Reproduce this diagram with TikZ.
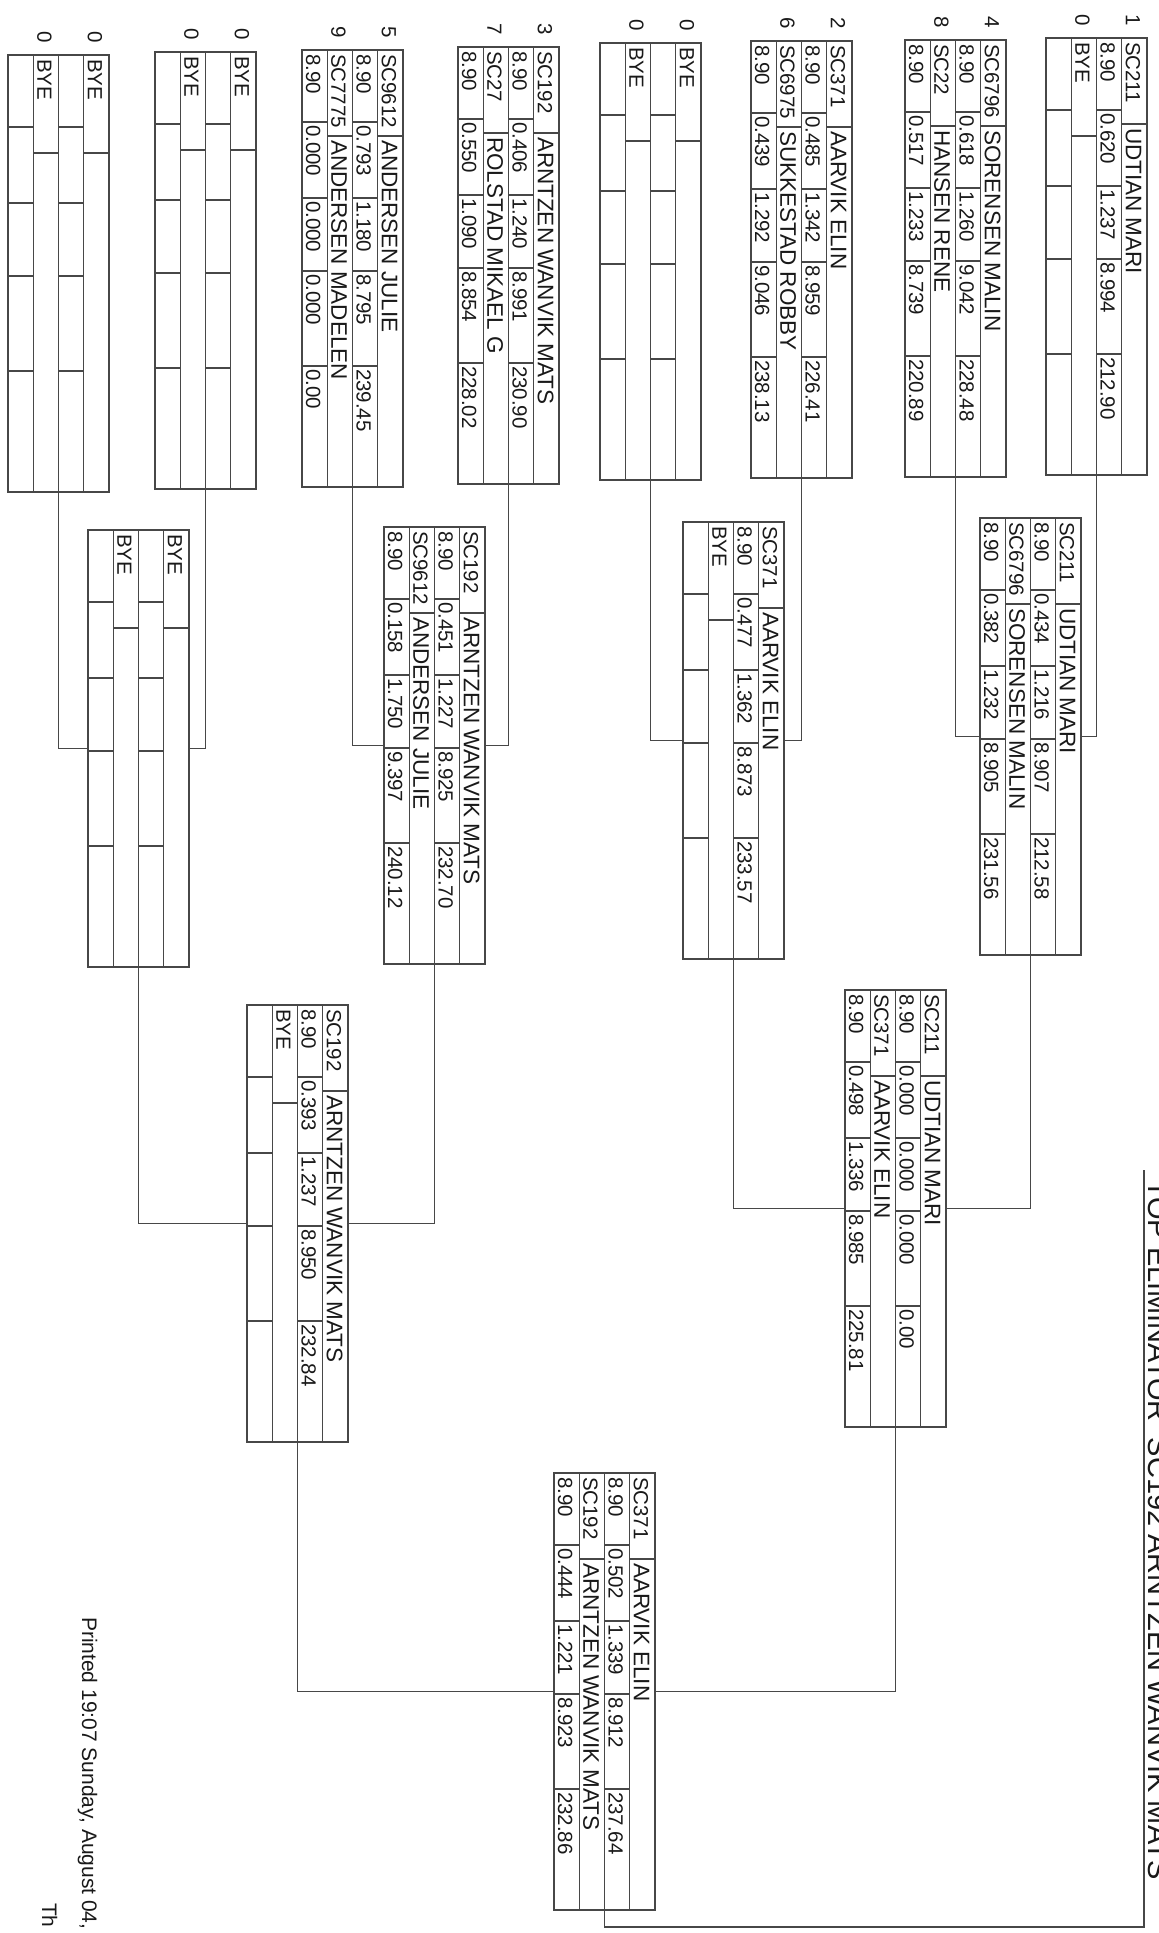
\documentclass[tikz,border=0pt]{standalone}
\usepackage{fontspec}
\setmainfont{Liberation Sans}
\usetikzlibrary{calc}
\newcount\tc
\tikzset{
  ln/.style={draw=black!72, line width=1.3pt},
  boxnode/.style={draw=black!72, line width=1.3pt, rectangle, minimum width=101pt, minimum height=437pt, inner sep=0pt, outer sep=0pt, anchor=north west},
  txt/.style={rotate=-90, anchor=base west, inner sep=0pt, outer sep=0pt, text=black!90, font=\fontsize{20.5}{21}\selectfont},
  ntxt/.style={txt, font=\fontsize{22.5}{23}\selectfont},
  conn/.style={draw=black!72, line width=1.3pt},
}
% box frame: name, left, top
\newcommand\bx[3]{%
  \node[boxnode] (#1) at (#2,#3) {};
  \def\bL{#2}\def\bT{#3}%
  \draw[ln] (#2+25.25,#3) -- ++(0,437) (#2+50.5,#3) -- ++(0,437) (#2+75.75,#3) -- ++(0,437);}
% seed number above name row: slot, digit
\newcommand\seed[2]{%
  \pgfmathsetmacro\sx{\bL+75.75-50.5*#1}%
  \global\advance\tc by 1 \node[txt] (t\the\tc) at (\sx+4,\bT-24) {#2};}
% number-row dividers: slot
\newcommand\ndiv[1]{%
  \pgfmathsetmacro\sy{\bL+50.5-50.5*#1}%
  \draw[ln] (\sy,\bT+72) -- ++(25.25,0) (\sy,\bT+148) -- ++(25.25,0)
            (\sy,\bT+221) -- ++(25.25,0) (\sy,\bT+316) -- ++(25.25,0);}
% player name row: slot, id, name
\newcommand\pl[3]{%
  \pgfmathsetmacro\sx{\bL+75.75-50.5*#1}%
  \draw[ln] (\sx,\bT+86) -- ++(25.25,0);
  \global\advance\tc by 1 \node[txt] (t\the\tc) at (\sx+4,\bT+4) {#2};
  \global\advance\tc by 1 \node[ntxt] (t\the\tc) at (\sx+4,\bT+90) {#3};}
% bye: slot
\newcommand\bye[1]{%
  \pgfmathsetmacro\sx{\bL+75.75-50.5*#1}%
  \draw[ln] (\sx,\bT+98) -- ++(25.25,0);
  \global\advance\tc by 1 \node[txt] (t\the\tc) at (\sx+4,\bT+4) {BYE};
  \ndiv{#1}}
% numbers row: slot, five numbers
\newcommand\nums[6]{%
  \ndiv{#1}%
  \global\advance\tc by 1 \node[txt] (t\the\tc) at (\sy+4,\bT+4) {#2};
  \global\advance\tc by 1 \node[txt] (t\the\tc) at (\sy+4,\bT+75) {#3};
  \global\advance\tc by 1 \node[txt] (t\the\tc) at (\sy+4,\bT+151) {#4};
  \global\advance\tc by 1 \node[txt] (t\the\tc) at (\sy+4,\bT+224) {#5};
  \global\advance\tc by 1 \node[txt] (t\the\tc) at (\sy+4,\bT+319) {#6};}
\begin{document}
\begin{tikzpicture}[x=1pt,y=-1pt]
\useasboundingbox[fill=white] (0,0) rectangle (1159,1933);
% ---------- first round ----------
\bx{b1}{1046}{38} \seed{0}{1}\seed{1}{0}
\pl{0}{SC211}{UDTIAN MARI}\nums{0}{8.90}{0.620}{1.237}{8.994}{212.90}
\bye{1}
\bx{b2}{905}{40} \seed{0}{4}\seed{1}{8}
\pl{0}{SC6796}{SORENSEN MALIN}\nums{0}{8.90}{0.618}{1.260}{9.042}{228.48}
\pl{1}{SC22}{HANSEN RENE}\nums{1}{8.90}{0.517}{1.233}{8.739}{220.89}
\bx{b3}{751}{41} \seed{0}{2}\seed{1}{6}
\pl{0}{SC371}{AARVIK ELIN}\nums{0}{8.90}{0.485}{1.342}{8.959}{226.41}
\pl{1}{SC6975}{SUKKESTAD ROBBY}\nums{1}{8.90}{0.439}{1.292}{9.046}{238.13}
\bx{b4}{600}{43} \seed{0}{0}\seed{1}{0}
\bye{0}\bye{1}
\bx{b5}{458}{47} \seed{0}{3}\seed{1}{7}
\pl{0}{SC192}{ARNTZEN WANVIK MATS}\nums{0}{8.90}{0.406}{1.240}{8.991}{230.90}
\pl{1}{SC27}{ROLSTAD MIKAEL G}\nums{1}{8.90}{0.550}{1.090}{8.854}{228.02}
\bx{b6}{302}{50} \seed{0}{5}\seed{1}{9}
\pl{0}{SC9612}{ANDERSEN JULIE}\nums{0}{8.90}{0.793}{1.180}{8.795}{239.45}
\pl{1}{SC7775}{ANDERSEN MADELEN}\nums{1}{8.90}{0.000}{0.000}{0.000}{0.00}
\bx{b7}{155}{52} \seed{0}{0}\seed{1}{0}
\bye{0}\bye{1}
\bx{b8}{8}{55} \seed{0}{0}\seed{1}{0}
\bye{0}\bye{1}
% ---------- second round ----------
\bx{r2a}{980}{518}
\pl{0}{SC211}{UDTIAN MARI}\nums{0}{8.90}{0.434}{1.216}{8.907}{212.58}
\pl{1}{SC6796}{SORENSEN MALIN}\nums{1}{8.90}{0.382}{1.232}{8.905}{231.56}
\bx{r2b}{683}{522}
\pl{0}{SC371}{AARVIK ELIN}\nums{0}{8.90}{0.477}{1.362}{8.873}{233.57}
\bye{1}
\bx{r2c}{384}{527}
\pl{0}{SC192}{ARNTZEN WANVIK MATS}\nums{0}{8.90}{0.451}{1.227}{8.925}{232.70}
\pl{1}{SC9612}{ANDERSEN JULIE}\nums{1}{8.90}{0.158}{1.750}{9.397}{240.12}
\bx{r2d}{88}{530}
\bye{0}\bye{1}
% ---------- third round ----------
\bx{r3a}{845}{990}
\pl{0}{SC211}{UDTIAN MARI}\nums{0}{8.90}{0.000}{0.000}{0.000}{0.00}
\pl{1}{SC371}{AARVIK ELIN}\nums{1}{8.90}{0.498}{1.336}{8.985}{225.81}
\bx{r3b}{247}{1005}
\pl{0}{SC192}{ARNTZEN WANVIK MATS}\nums{0}{8.90}{0.393}{1.237}{8.950}{232.84}
\bye{1}
% ---------- final ----------
\bx{r4}{554}{1473}
\pl{0}{SC371}{AARVIK ELIN}\nums{0}{8.90}{0.502}{1.339}{8.912}{237.64}
\pl{1}{SC192}{ARNTZEN WANVIK MATS}\nums{1}{8.90}{0.444}{1.221}{8.923}{232.86}
% ---------- connectors ----------
\draw[conn] (b8.south) |- (r2d.west);
\draw[conn] (b7.south) |- (r2d.east);
\draw[conn] (b6.south) |- (r2c.west);
\draw[conn] (b5.south) |- (r2c.east);
\draw[conn] (b4.south) |- (r2b.west);
\draw[conn] (b3.south) |- (r2b.east);
\draw[conn] (b2.south) |- (r2a.west);
\draw[conn] (b1.south) |- (r2a.east);
\draw[conn] (r2d.south) |- (r3b.west);
\draw[conn] (r2c.south) |- (r3b.east);
\draw[conn] (r2b.south) |- (r3a.west);
\draw[conn] (r2a.south) |- (r3a.east);
\draw[conn] (r3b.south) |- (r4.west);
\draw[conn] (r3a.south) |- (r4.east);
\coordinate (chA) at (1144,1927);
\coordinate (chB) at (1144,1170);
\draw[conn] (r4.south) |- (chA) -- (chB);
% ---------- texts ----------
\node[txt, font=\fontsize{29}{29}\selectfont] (title) at (1148,1180) {TOP ELIMINATOR\ \ SC192 ARNTZEN WANVIK MATS};
\node[txt, font=\fontsize{21}{21}\selectfont] (printed) at (82,1617) {Printed 19:07 Sunday, August 04,};
\node[txt, font=\fontsize{21}{21}\selectfont] (th) at (42,1903) {Th};
\end{tikzpicture}
\end{document}
